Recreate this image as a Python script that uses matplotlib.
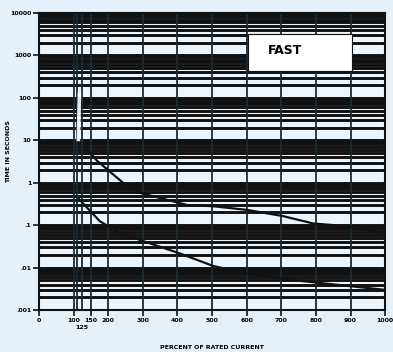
import matplotlib.pyplot as plt
import numpy as np

# percent of rated current vs time (s)
upper_x = [130, 153, 168, 243, 292, 428, 503, 601, 705, 792, 890, 1000]
upper_y = [7.0, 4.6, 3.3, 1.0, 0.58, 0.30, 0.28, 0.23, 0.164, 0.11, 0.095, 0.065]
lower_x = [115, 176, 234, 408, 503, 601, 754, 1000]
lower_y = [0.42, 0.124, 0.065, 0.0215, 0.011, 0.0072, 0.0049, 0.003]
# pale streak near the top of the upper curve
streak_x = [114, 117]
streak_y = [10.5, 120]

vlines = [100, 110, 125, 150, 200, 300, 400, 500, 600, 700, 800, 900, 1000]
xticks = [0, 100, 150, 200, 300, 400, 500, 600, 700, 800, 900, 1000]
yticks = [0.001, 0.01, 0.1, 1, 10, 100, 1000, 10000]
ylabels = [".001", ".01", ".1", "1", "10", "100", "1000", "10000"]

bg = "#e4f1fb"
ink = "#111111"

fig = plt.figure(figsize=(3.93, 3.52), dpi=100, facecolor=bg)
ax = fig.add_axes([0.099, 0.119, 0.881, 0.844])
ax.set_facecolor("#eaf5fd")
ax.set_yscale("log")
ax.set_xlim(0, 1000)
ax.set_ylim(0.001, 10000)

# dense log grid
for dec in range(-3, 4):
    for m in range(1, 10):
        v = m * 10.0 ** dec
        ax.axhline(v, color=ink, lw=2.1, zorder=1)
ax.axhline(10000, color=ink, lw=2.1, zorder=1)
for v in vlines:
    ax.axvline(v, color="#1b2a33", lw=1.3, zorder=1)

ax.plot(upper_x, upper_y, color=ink, lw=1.6, zorder=3)
ax.plot(lower_x, lower_y, color=ink, lw=1.6, zorder=3)
ax.plot(streak_x, streak_y, color="white", lw=2.6, alpha=0.9, zorder=3)

ax.set_xticks(xticks)
ax.set_xticklabels([str(t) for t in xticks], fontsize=4.5, fontweight="bold")
ax.set_yticks(yticks)
ax.set_yticklabels(ylabels, fontsize=4.5, fontweight="bold")
ax.yaxis.set_minor_locator(plt.NullLocator())
ax.tick_params(axis="both", length=4, width=1.2, color=ink, pad=1.5)
ax.text(125, 0.00045, "125", fontsize=4.5, fontweight="bold", ha="center", va="top")
for s in ax.spines.values():
    s.set_color(ink)
    s.set_linewidth(1.5)

ax.set_xlabel("PERCENT OF RATED CURRENT", fontsize=4.5, fontweight="bold", labelpad=16)
fig.text(0.022, 0.57, "TIME IN SECONDS", rotation=90, fontsize=4.5, fontweight="bold",
         ha="center", va="center")

ax.text(0.71, 0.875, "FAST", transform=ax.transAxes, fontsize=9, fontweight="bold",
        ha="center", va="center", zorder=5,
        bbox=dict(boxstyle="square,pad=0", fc="white", ec="none"))
box = plt.Rectangle((0.605, 0.805), 0.30, 0.125, transform=ax.transAxes,
                    fc="white", ec=ink, lw=0.8, zorder=4)
ax.add_patch(box)

fig.savefig("out.png", dpi=100, facecolor=bg)
